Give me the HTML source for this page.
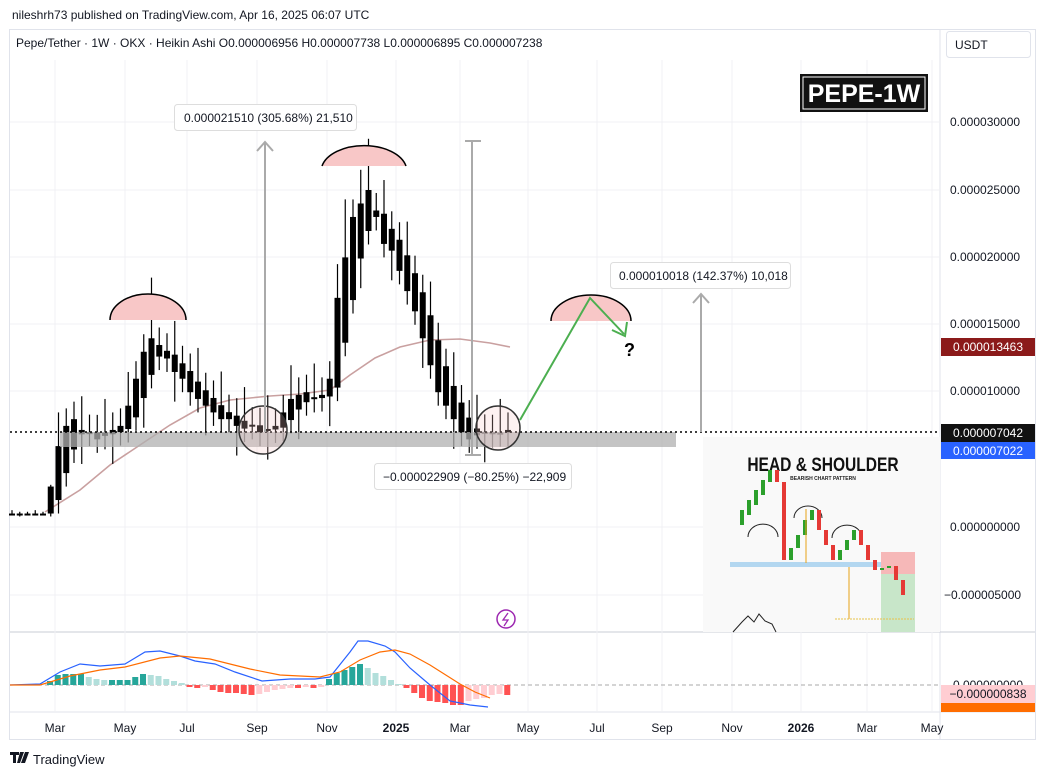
<!DOCTYPE html>
<html><head><meta charset="utf-8"><style>
body{margin:0;background:#fff;width:1044px;height:777px;overflow:hidden;font-family:"Liberation Sans",sans-serif;}
svg text{font-family:"Liberation Sans",sans-serif;}
</style></head><body>
<svg id="s" width="1044" height="777" xmlns="http://www.w3.org/2000/svg">
<rect width="1044" height="777" fill="#fff"/>
<text x="12" y="19" font-size="12" fill="#131722">nileshrh73 published on TradingView.com, Apr 16, 2025 06:07 UTC</text>
<rect x="9.5" y="29.5" width="1026" height="710" fill="none" stroke="#e0e3eb"/>
<line x1="940" y1="30" x2="940" y2="740" stroke="#e0e3eb"/>
<line x1="10" y1="632" x2="1035" y2="632" stroke="#c9ccd6"/>
<line x1="10" y1="712" x2="1035" y2="712" stroke="#e0e3eb"/>
<g id="grid" stroke="#f0f1f4"></g>
<text x="16" y="47" font-size="12" fill="#131722">Pepe/Tether · 1W · OKX · Heikin Ashi  O0.000006956  H0.000007738  L0.000006895  C0.000007238</text>
<rect x="946.5" y="31.5" width="84" height="26" rx="3" fill="#fff" stroke="#e0e3eb"/>
<text x="955" y="49" font-size="12" fill="#131722">USDT</text>
<g id="ax" font-size="12" fill="#131722"></g>
<g id="ma"></g>
<g id="c"></g>
<!-- band -->
<rect x="60" y="432" width="616" height="15" fill="#b0b0b0" fill-opacity="0.75"/>
<line x1="10" y1="432" x2="940" y2="432" stroke="#000" stroke-width="1.5" stroke-dasharray="2,3"/>
<!-- shoulders -->
<path d="M110,320 A38,26 0 0 1 186,320 Z" fill="#f8c7c7"/>
<path d="M110,320 A38,26 0 0 1 186,320" fill="none" stroke="#000" stroke-width="1.5"/>
<path d="M322,166 A43,26 0 0 1 406,166 Z" fill="#f8c7c7"/>
<path d="M322,166 A43,26 0 0 1 406,166" fill="none" stroke="#000" stroke-width="1.5"/>
<path d="M551,321 A40,26 0 0 1 631,321 Z" fill="#f8c7c7"/>
<path d="M551,321 A40,26 0 0 1 631,321" fill="none" stroke="#000" stroke-width="1.5"/>
<circle cx="263" cy="430" r="24" fill="#f8c7c7" fill-opacity="0.25" stroke="#333" stroke-width="1.5"/>
<circle cx="498" cy="428" r="22" fill="#f8c7c7" fill-opacity="0.25" stroke="#333" stroke-width="1.5"/>
<!-- arrows -->
<g stroke="#aaa" stroke-width="2" fill="none">
<line x1="265" y1="432" x2="265" y2="142"/><path d="M257,151 L265,142 L273,151"/>
<line x1="472" y1="455" x2="472" y2="141"/><line x1="465" y1="141" x2="481" y2="141"/><line x1="465" y1="455" x2="481" y2="455"/>
<line x1="701" y1="432" x2="701" y2="294"/><path d="M693,303 L701,294 L709,303"/>
</g>
<path d="M520,420 L590,298 L624,334" fill="none" stroke="#4caf50" stroke-width="2"/>
<path d="M612,330 L625,336 L627,322" fill="none" stroke="#4caf50" stroke-width="2"/>
<text x="624" y="356" font-size="18" font-weight="bold" fill="#000">?</text>
<rect x="174.5" y="104.5" width="182" height="26" rx="3" fill="#fff" stroke="#ddd"/>
<text x="184" y="122" font-size="12" fill="#131722">0.000021510 (305.68%) 21,510</text>
<rect x="610.5" y="262.5" width="180" height="26" rx="3" fill="#fff" stroke="#ddd"/>
<text x="619" y="280" font-size="12" fill="#131722">0.000010018 (142.37%) 10,018</text>
<rect x="374.5" y="463.5" width="197" height="26" rx="3" fill="#fff" stroke="#ddd"/>
<text x="383" y="481" font-size="12" fill="#131722">−0.000022909 (−80.25%) −22,909</text>
<rect x="800" y="74" width="128" height="38" fill="#111"/>
<rect x="803" y="77" width="122" height="32" fill="none" stroke="#fff" stroke-width="1"/>
<text x="864" y="102" font-size="25" font-weight="bold" fill="#fff" text-anchor="middle">PEPE-1W</text>
<circle cx="506" cy="619" r="9" fill="none" stroke="#9c27b0" stroke-width="1.5"/>
<path d="M508,613 L503,620 L508,620 L504,626" fill="none" stroke="#9c27b0" stroke-width="1.3"/>
<!-- inset -->
<g>
<rect x="703" y="437" width="237" height="195" fill="#f9f9f9"/>
<text x="823" y="471" font-size="19" font-weight="bold" fill="#111" text-anchor="middle" transform="translate(823,0) scale(0.82,1) translate(-823,0)">HEAD &amp; SHOULDER</text>
<text x="823" y="480" font-size="5" font-weight="bold" fill="#222" text-anchor="middle">BEARISH CHART PATTERN</text>
<rect x="730" y="562" width="184" height="5" fill="#b3d7f0"/>
<rect x="881" y="552" width="34" height="22" fill="#f6b8b8"/>
<rect x="881" y="574" width="34" height="58" fill="#c8e6c9"/>
<path d="M748,537 A14,12 0 0 1 778,537 M794,518 A14,12 0 0 1 822,518 M832,538 A14,12 0 0 1 862,538" fill="none" stroke="#222" stroke-width="1"/>
<g id="ins"></g>
<line x1="806" y1="509" x2="806" y2="563" stroke="#e8a317"/>
<line x1="849" y1="567" x2="849" y2="619" stroke="#e8a317"/>
<line x1="835" y1="619" x2="914" y2="619" stroke="#e8c34a" stroke-dasharray="2,1"/>
<path d="M733,632 L742,622 L748,616 L754,622 L759,614 L765,621 L772,624 L776,632" fill="none" stroke="#222"/>
</g>
<!-- price labels -->
<rect x="941" y="338" width="94" height="18" fill="#8b1a1a"/><text x="988" y="351" font-size="12" fill="#fff" text-anchor="middle">0.000013463</text>
<rect x="941" y="424" width="94" height="18" fill="#111"/><text x="988" y="437" font-size="12" fill="#fff" text-anchor="middle">0.000007042</text>
<rect x="941" y="442" width="94" height="17" fill="#2962ff"/><text x="988" y="455" font-size="12" fill="#fff" text-anchor="middle">0.000007022</text>
<!-- macd -->
<line x1="10" y1="685" x2="940" y2="685" stroke="#aaa" stroke-dasharray="4,3"/>
<g id="h"></g>
<polyline fill="none" stroke="#2962ff" stroke-width="1.2" points="10,685 40,684 60,672 80,664 100,666 125,664 145,652 160,651 180,656 195,661 215,664 235,672 262,681 290,679 315,679 330,677 350,652 358,641 368,641 385,646 395,652 410,668 430,685 450,701 470,705 488,707"/>
<polyline fill="none" stroke="#ff6d00" stroke-width="1.2" points="10,685 40,685 70,676 100,670 125,667 160,658 180,656 210,659 250,669 280,675 320,677 340,672 360,660 380,652 395,650 410,654 430,665 460,684 475,692 490,698"/>
<text x="988" y="689" font-size="12" fill="#131722" text-anchor="middle">0.000000000</text>
<rect x="941" y="685" width="94" height="18" fill="#ffcdd2"/><text x="988" y="698" font-size="12" fill="#131722" text-anchor="middle">−0.000000838</text>
<rect x="941" y="703" width="94" height="9" fill="#ff6d00"/>
<g id="t" font-size="12" fill="#131722" text-anchor="middle"></g>
<path d="M10,752 h9 v3 h-3 v8 h-3 v-8 h-3z M20,752 h4 l-4,11 h-3z M25,752 h4 l-4,11 h-4z" fill="#131722"/>
<text x="33" y="764" font-size="13" fill="#131722">TradingView</text>
</svg>
<script>
const NS="http://www.w3.org/2000/svg";
function el(p,t,a,txt){const e=document.createElementNS(NS,t);for(const k in a)e.setAttribute(k,a[k]);if(txt)e.textContent=txt;document.getElementById(p).appendChild(e);return e;}
const Y=p=>527-13.48*p;
const months=[[55,"Mar"],[125,"May"],[187,"Jul"],[257,"Sep"],[327,"Nov"],[396,"2025"],[460,"Mar"],[528,"May"],[597,"Jul"],[662,"Sep"],[732,"Nov"],[801,"2026"],[867,"Mar"],[932,"May"]];
months.forEach(([x,l])=>{el("grid","line",{x1:x,y1:60,x2:x,y2:712});const t=el("t","text",{x:x,y:732},l);if(l.length==4)t.setAttribute("font-weight","bold");});
[[122,"0.000030000"],[190,"0.000025000"],[257,"0.000020000"],[324,"0.000015000"],[391,"0.000010000"],[527,"0.000000000"],[595,"−0.000005000"]].forEach(([y,l])=>{el("grid","line",{x1:10,y1:y,x2:940,y2:y});el("ax","text",{x:l[0]=="−"?944:950,y:y+4},l);});
const C=[1,1,1,1,1,3,6,7.5,8,7.2,7,6.5,7,7.2,7.5,9,11,13,14,13.5,12.5,11.5,11,10,9.5,9,8.5,8,8,7.5,7.3,7.5,7,7.2,7.5,8.5,9.5,9.8,10,9.5,9.8,11,17,20,23,24,25,23,21,20.5,19,17.5,16,14,12,10,9,8,7,6.5,6.8,7,6.9,7,7.2];
let o=1;
C.forEach((c,i)=>{const x=12+i*7.75;const big=c>5?1:0.1;const hi=Math.max(o,c)+(i%3==0?2.5:1.3)*big+(i==46?2.5:0)+(i==18?2:0)+(i==43?3:0);const lo=Math.min(o,c)-(i%4==1?2.2:1.0)*big;
el("c","line",{x1:x,y1:Y(hi),x2:x,y2:Y(lo),stroke:"#000","stroke-width":1.2});
const t=Y(Math.max(o,c)),b=Y(Math.min(o,c));
el("c","rect",{x:x-3,y:t,width:6,height:Math.max(2,b-t),fill:"#000"});
o=(o+c)/2;});
el("ma","polyline",{fill:"none",stroke:"#c9a0a0","stroke-width":1.6,points:"45,512 80,490 110,465 140,445 170,425 200,408 230,400 270,396 300,394 330,390 350,375 375,358 400,347 430,340 460,339 490,343 510,347"});
const H=[4,10,11,11,11,8,6,5,5,5,5,8,11,10,9,6,4,2,-2,-3,-2,-5,-7,-8,-8,-9,-10,-9,-7,-5,-4,-3,-3,-2,-3,-2,6,12,15,18,21,17,12,9,5,1,-3,-8,-13,-16,-17,-18,-20,-20,-16,-14,-13,-10,-9,-10];
H.forEach((h,i)=>{const x=50+i*7.75;const p=i?H[i-1]:0;let col;if(h>=0)col=h>=p?"#26a69a":"#b2dfdb";else col=h<=p?"#ff5252":"#ffcdd2";
el("h","rect",{x:x-3,y:h>0?685-h:685,width:6,height:Math.abs(h)||1,fill:col});});
const I=[[742,525,510],[749,515,500],[756,505,490],[763,495,480],[770,482,470],[777,470,482],[784,482,560],[791,560,548],[798,548,535],[805,535,520],[812,520,510],[819,510,530],[826,530,545],[833,545,560],[840,560,550],[847,550,540],[854,540,530],[861,530,545],[868,545,560],[875,560,570],[882,570,568],[889,568,566],[896,566,580],[903,580,595]];
I.forEach(([x,a,b])=>{const up=b<a;el("ins","rect",{x:x-2,y:Math.min(a,b),width:4,height:Math.abs(a-b)||2,fill:up?"#2ca02c":"#e53935"});});
</script>
</body></html>
